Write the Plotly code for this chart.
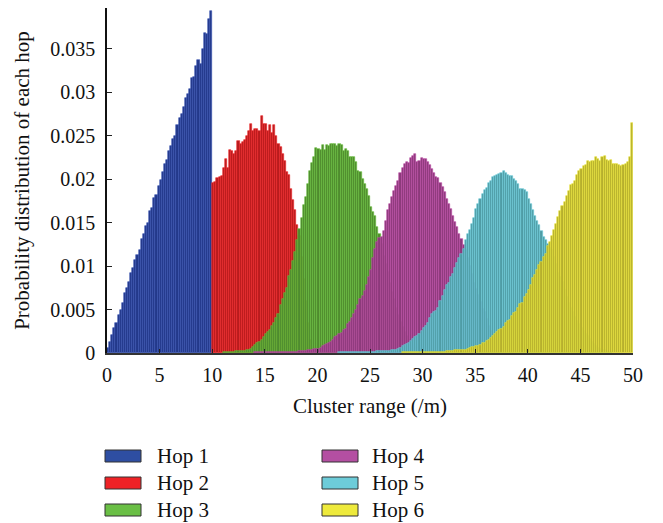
import plotly.graph_objects as go

# ---------------- data (probability per 0.2 m bin) ----------------
BIN_W = 0.2
hop_names = ["Hop 1", "Hop 2", "Hop 3", "Hop 4", "Hop 5", "Hop 6"]
hop_start = [0.0, 10.0, 11.0, 14.0, 22.0, 28.0]   # x of first bin of each hop

hop1 = [0.0006, 0.0013, 0.0021, 0.0029, 0.0035, 0.0044, 0.0050, 0.0058, 0.0069, 0.0075,
        0.0082, 0.0092, 0.0098, 0.0107, 0.0113, 0.0118, 0.0131, 0.0137, 0.0146, 0.0150,
        0.0163, 0.0167, 0.0178, 0.0182, 0.0192, 0.0199, 0.0208, 0.0218, 0.0222, 0.0232,
        0.0238, 0.0246, 0.0250, 0.0262, 0.0270, 0.0275, 0.0283, 0.0293, 0.0298, 0.0304,
        0.0317, 0.0318, 0.0330, 0.0337, 0.0333, 0.0350, 0.0368, 0.0367, 0.0384, 0.0394]

hop2 = [0.0196, 0.0197, 0.0201, 0.0203, 0.0204, 0.0213, 0.0223, 0.0213, 0.0234, 0.0232,
        0.0229, 0.0233, 0.0244, 0.0241, 0.0243, 0.0245, 0.0250, 0.0255, 0.0264, 0.0255,
        0.0258, 0.0258, 0.0255, 0.0273, 0.0264, 0.0264, 0.0256, 0.0262, 0.0253, 0.0262,
        0.0250, 0.0241, 0.0237, 0.0229, 0.0221, 0.0208, 0.0205, 0.0189, 0.0176, 0.0165,
        0.0147, 0.0135, 0.0110, 0.0085, 0.0060, 0.0035, 0.0015, 0.0004]

hop3 = [0.0001, 0.0001, 0.0001, 0.0001, 0.0001, 0.0001, 0.0002, 0.0002, 0.0002, 0.0002,
        0.0002, 0.0003, 0.0004, 0.0005, 0.0007, 0.0009, 0.0011, 0.0013, 0.0015, 0.0018,
        0.0022, 0.0024, 0.0027, 0.0031, 0.0035, 0.0040, 0.0045, 0.0055, 0.0062, 0.0069,
        0.0075, 0.0089, 0.0096, 0.0106, 0.0116, 0.0130, 0.0143, 0.0155, 0.0170, 0.0180,
        0.0195, 0.0210, 0.0219, 0.0225, 0.0236, 0.0235, 0.0234, 0.0239, 0.0234, 0.0239,
        0.0238, 0.0241, 0.0240, 0.0241, 0.0238, 0.0241, 0.0239, 0.0233, 0.0235, 0.0233,
        0.0226, 0.0226, 0.0225, 0.0220, 0.0209, 0.0208, 0.0200, 0.0194, 0.0189, 0.0181,
        0.0168, 0.0162, 0.0158, 0.0145, 0.0137, 0.0125, 0.0112, 0.0102, 0.0093, 0.0080,
        0.0070, 0.0062, 0.0052, 0.0044, 0.0036, 0.0030, 0.0024, 0.0019, 0.0015, 0.0012,
        0.0009, 0.0007, 0.0006, 0.0004, 0.0003, 0.0002, 0.0001, 0.0001, 0.0001, 0.0001]

hop4 = [0.0001, 0.0001, 0.0001, 0.0001, 0.0001, 0.0001, 0.0001, 0.0001, 0.0001, 0.0001,
        0.0001, 0.0001, 0.0001, 0.0001, 0.0001, 0.0001, 0.0001, 0.0001, 0.0001, 0.0001,
        0.0001, 0.0002, 0.0002, 0.0002, 0.0002, 0.0003, 0.0003, 0.0004, 0.0005, 0.0005,
        0.0005, 0.0006, 0.0008, 0.0009, 0.0010, 0.0011, 0.0013, 0.0015, 0.0018, 0.0020,
        0.0022, 0.0023, 0.0026, 0.0028, 0.0033, 0.0036, 0.0040, 0.0045, 0.0050, 0.0055,
        0.0062, 0.0066, 0.0071, 0.0078, 0.0087, 0.0096, 0.0109, 0.0120, 0.0128, 0.0132,
        0.0134, 0.0140, 0.0152, 0.0164, 0.0172, 0.0179, 0.0186, 0.0192, 0.0198, 0.0207,
        0.0213, 0.0218, 0.0220, 0.0219, 0.0224, 0.0227, 0.0229, 0.0220, 0.0221, 0.0224,
        0.0223, 0.0223, 0.0220, 0.0216, 0.0212, 0.0207, 0.0202, 0.0201, 0.0196, 0.0191,
        0.0185, 0.0177, 0.0171, 0.0166, 0.0158, 0.0151, 0.0145, 0.0137, 0.0131, 0.0124,
        0.0118, 0.0109, 0.0100, 0.0091, 0.0080, 0.0074, 0.0067, 0.0059, 0.0051, 0.0047,
        0.0039, 0.0031, 0.0025, 0.0021, 0.0018, 0.0016, 0.0012, 0.0009, 0.0007, 0.0004,
        0.0003, 0.0002, 0.0001]

hop5 = [0.0001, 0.0001, 0.0001, 0.0001, 0.0001, 0.0001, 0.0001, 0.0001, 0.0001, 0.0001,
        0.0001, 0.0001, 0.0001, 0.0001, 0.0001, 0.0001, 0.0001, 0.0001, 0.0002, 0.0002,
        0.0002, 0.0002, 0.0002, 0.0002, 0.0002, 0.0003, 0.0004, 0.0004, 0.0005, 0.0006,
        0.0008, 0.0009, 0.0010, 0.0012, 0.0014, 0.0016, 0.0018, 0.0020, 0.0022, 0.0025,
        0.0029, 0.0031, 0.0034, 0.0040, 0.0045, 0.0047, 0.0048, 0.0052, 0.0060, 0.0066,
        0.0072, 0.0078, 0.0081, 0.0088, 0.0091, 0.0098, 0.0103, 0.0109, 0.0114, 0.0120,
        0.0130, 0.0137, 0.0142, 0.0149, 0.0155, 0.0166, 0.0172, 0.0177, 0.0183, 0.0187,
        0.0190, 0.0196, 0.0198, 0.0202, 0.0204, 0.0205, 0.0206, 0.0207, 0.0210, 0.0207,
        0.0205, 0.0204, 0.0204, 0.0200, 0.0198, 0.0195, 0.0189, 0.0189, 0.0188, 0.0185,
        0.0177, 0.0171, 0.0165, 0.0158, 0.0152, 0.0147, 0.0140, 0.0134, 0.0130, 0.0125,
        0.0121, 0.0118, 0.0110, 0.0102, 0.0092, 0.0087, 0.0082, 0.0072, 0.0065, 0.0058,
        0.0052, 0.0047, 0.0042, 0.0037, 0.0033, 0.0029, 0.0025, 0.0022, 0.0019, 0.0016,
        0.0013, 0.0010, 0.0008, 0.0006, 0.0005, 0.0004, 0.0003, 0.0002, 0.0001, 0.0001]

hop6 = [0.0001, 0.0001, 0.0001, 0.0001, 0.0001, 0.0001, 0.0001, 0.0001, 0.0001, 0.0001,
        0.0001, 0.0001, 0.0001, 0.0001, 0.0001, 0.0001, 0.0001, 0.0001, 0.0001, 0.0001,
        0.0001, 0.0002, 0.0002, 0.0002, 0.0002, 0.0003, 0.0003, 0.0003, 0.0004, 0.0004,
        0.0004, 0.0005, 0.0006, 0.0007, 0.0007, 0.0008, 0.0008, 0.0009, 0.0011, 0.0012,
        0.0014, 0.0015, 0.0017, 0.0019, 0.0022, 0.0024, 0.0026, 0.0028, 0.0030, 0.0034,
        0.0037, 0.0038, 0.0043, 0.0046, 0.0047, 0.0052, 0.0056, 0.0058, 0.0064, 0.0068,
        0.0073, 0.0078, 0.0086, 0.0090, 0.0096, 0.0101, 0.0105, 0.0111, 0.0114, 0.0123,
        0.0128, 0.0135, 0.0142, 0.0149, 0.0156, 0.0163, 0.0169, 0.0174, 0.0181, 0.0186,
        0.0193, 0.0195, 0.0198, 0.0205, 0.0209, 0.0212, 0.0215, 0.0216, 0.0221, 0.0220,
        0.0221, 0.0221, 0.0225, 0.0223, 0.0221, 0.0225, 0.0227, 0.0222, 0.0221, 0.0222,
        0.0218, 0.0218, 0.0218, 0.0216, 0.0215, 0.0216, 0.0218, 0.0220, 0.0225, 0.0265]

hops = [hop1, hop2, hop3, hop4, hop5, hop6]

x_ticks = [0, 5, 10, 15, 20, 25, 30, 35, 40, 45, 50]
y_ticks = [0, 0.005, 0.01, 0.015, 0.02, 0.025, 0.03, 0.035]
y_tick_text = ["0", "0.005", "0.01", "0.015", "0.02", "0.025", "0.03", "0.035"]

# ---------------- styles ----------------
bar_fill = ["#23398A", "#B81C1E", "#4F8B2F", "#8C3A7B", "#4F9CA5", "#B6AF2E"]
bar_edge = ["#3552B0", "#F02326", "#67C03B", "#BE4CA6", "#6BCFDB", "#ECE535"]
legend_fill = ["#2E4EA2", "#EE2226", "#6ABF45", "#B44FA2", "#6DCCD9", "#EEEA3C"]
FONT = "Liberation Serif, Times New Roman, serif"

fig = go.Figure()
for name, start, vals, fc, ec in zip(hop_names, hop_start, hops, bar_fill, bar_edge):
    xs = [start + BIN_W * (i + 0.5) for i in range(len(vals))]
    fig.add_trace(go.Bar(
        x=xs, y=vals, width=BIN_W, name=name, showlegend=False,
        marker=dict(color=fc, line=dict(color=ec, width=0.6)),
    ))

# legend drawn as wide swatches (two columns)
W, H = 663, 523
L, R, T, B = 107, 30, 8, 170
pw, ph = W - L - R, H - T - B


def px_to_paper_x(px):
    return (px - L) / pw


def py_to_paper_y(py):
    return (H - B - py) / ph


col_px = [105, 322]
text_px = [155, 370]
row_py = [456, 483, 510]
for k, name in enumerate(hop_names):
    c, r = divmod(k, 3)
    x0, x1 = col_px[c], col_px[c] + 36
    y0, y1 = row_py[r] - 6, row_py[r] + 6
    fig.add_shape(type="rect", xref="paper", yref="paper",
                  x0=px_to_paper_x(x0), x1=px_to_paper_x(x1),
                  y0=py_to_paper_y(y1), y1=py_to_paper_y(y0),
                  fillcolor=legend_fill[k], line=dict(color="#333333", width=1))
    fig.add_annotation(xref="paper", yref="paper",
                       x=px_to_paper_x(text_px[c]), y=py_to_paper_y(row_py[r]),
                       text=name, showarrow=False, xanchor="left", yanchor="middle",
                       font=dict(family=FONT, size=21, color="#111111"))

fig.update_layout(
    width=W, height=H,
    margin=dict(l=L, r=R, t=T, b=B),
    paper_bgcolor="white", plot_bgcolor="white",
    barmode="overlay", bargap=0,
    showlegend=False,
    font=dict(family=FONT, size=20, color="#111111"),
    xaxis=dict(range=[0, 50], tickvals=x_ticks, ticks="inside", ticklen=4,
               tickcolor="#222222", showline=True, linecolor="#333333", linewidth=1.5,
               showgrid=False, zeroline=False, ticklabelstandoff=3,
               title=dict(text="Cluster range (/m)", font=dict(size=21), standoff=14)),
    yaxis=dict(range=[0, 0.0397], tickvals=y_ticks, ticktext=y_tick_text,
               ticks="inside", ticklen=5, tickcolor="#222222",
               showline=True, linecolor="#111111", linewidth=1.5,
               showgrid=False, zeroline=False, ticklabelstandoff=6,
               title=dict(text="Probability distribution of each hop", font=dict(size=21), standoff=15)),
)

fig.write_html("out.html")
